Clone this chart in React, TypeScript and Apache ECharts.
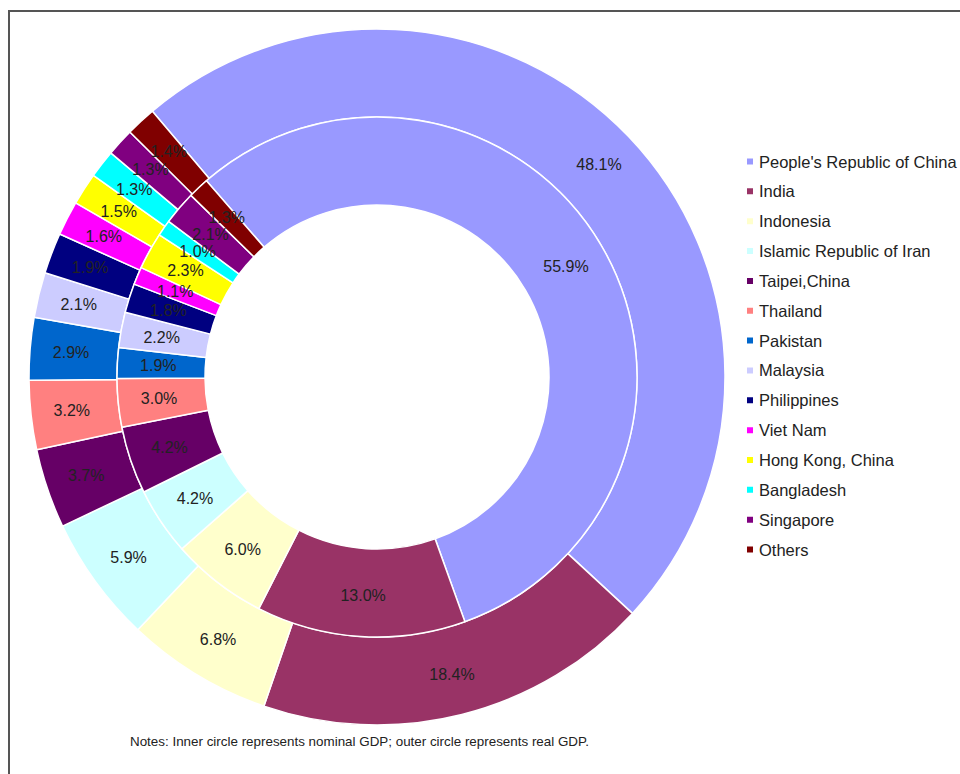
import React, { useEffect, useRef } from "react";
import * as echarts from "echarts";

const countries = [
  "People's Republic of China",
  "India",
  "Indonesia",
  "Islamic Republic of Iran",
  "Taipei,China",
  "Thailand",
  "Pakistan",
  "Malaysia",
  "Philippines",
  "Viet Nam",
  "Hong Kong, China",
  "Bangladesh",
  "Singapore",
  "Others",
];

const nominalGDP = [55.9, 13.0, 6.0, 4.2, 4.2, 3.0, 1.9, 2.2, 1.8, 1.1, 2.3, 1.0, 2.1, 1.3];
const realGDP = [48.1, 18.4, 6.8, 5.9, 3.7, 3.2, 2.9, 2.1, 1.9, 1.6, 1.5, 1.3, 1.3, 1.4];

const colors = [
  "#9999FF", "#993366", "#FFFFCC", "#CCFFFF", "#660066", "#FF8080", "#0066CC",
  "#CCCCFF", "#000080", "#FF00FF", "#FFFF00", "#00FFFF", "#800080", "#800000",
];

const noteText = "Notes: Inner circle represents nominal GDP; outer circle represents real GDP.";

const FONT = "'Liberation Sans', Arial, sans-serif";

export default function App() {
  const ref = useRef<HTMLDivElement>(null);
  useEffect(() => {
    if (!ref.current) return;
    const chart = echarts.init(ref.current, null, { renderer: "svg" });
    const label = {
      show: true,
      position: "inside",
      formatter: (p: any) => p.value.toFixed(1) + "%",
      color: "#222",
      fontSize: 16,
      fontFamily: FONT,
    };
    chart.setOption({
      animation: false,
      color: colors,
      legend: {
        orient: "vertical",
        left: 740,
        top: 148,
        itemWidth: 8,
        itemHeight: 8,
        itemGap: 12.85,
        icon: "rect",
        data: countries,
        textStyle: { fontSize: 16.5, fontFamily: FONT, color: "#222", lineHeight: 16 },
        selectedMode: false,
      },
      graphic: [
        {
          type: "polyline",
          shape: { points: [[9, 774], [9, 11], [960, 11]] },
          style: { stroke: "#555", lineWidth: 2, fill: null },
          silent: true,
        },
        {
          type: "text",
          left: 130,
          top: 735,
          style: { text: noteText, fontSize: 13.4, fontFamily: FONT, fill: "#222" },
        },
      ],
      series: [
        {
          name: "Real GDP",
          type: "pie",
          center: [377, 377],
          radius: [260, 348],
          startAngle: 130.2,
          clockwise: true,
          label,
          labelLine: { show: false },
          itemStyle: { borderColor: "#fff", borderWidth: 1.5 },
          emphasis: { disabled: true },
          data: countries.map((n, i) => ({ name: n, value: realGDP[i] })),
        },
        {
          name: "Nominal GDP",
          type: "pie",
          center: [377, 377],
          radius: [172, 260],
          startAngle: 131,
          clockwise: true,
          label,
          labelLine: { show: false },
          itemStyle: { borderColor: "#fff", borderWidth: 1.5 },
          emphasis: { disabled: true },
          data: countries.map((n, i) => ({ name: n, value: nominalGDP[i] })),
        },
      ],
    });
    return () => chart.dispose();
  }, []);
  return (
    <div
      ref={ref}
      style={{ position: "fixed", left: 0, top: 0, width: 960, height: 774, background: "#fff" }}
    />
  );
}
